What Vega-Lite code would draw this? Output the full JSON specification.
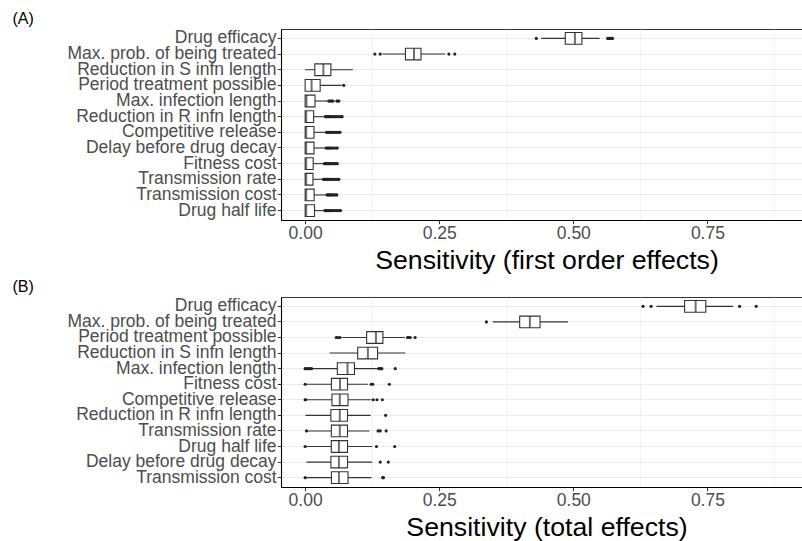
{
  "$schema": "https://vega.github.io/schema/vega-lite/v6.json",
  "padding": {"left": 12, "top": 10, "right": 0, "bottom": 0},
  "background": "white",
  "spacing": 3,
  "config": {
    "font": "Liberation Sans",
    "view": {"stroke": "#333333", "strokeWidth": 1},
    "title": {"font": "Liberation Sans", "fontSize": 16, "fontWeight": "normal", "color": "black", "anchor": "start", "frame": "group", "dx": -268.5, "offset": 2},
    "axis": {
      "labelFont": "Liberation Sans", "labelFontSize": 17.5, "labelColor": "#4D4D4D", "labelLimit": 0,
      "titleFont": "Liberation Sans", "titleFontWeight": "normal", "titleColor": "black", "titleFontSize": 26.7,
      "tickColor": "#333333", "tickSize": 3.7, "tickWidth": 1,
      "domainColor": "black", "domainWidth": 1.1,
      "gridColor": "#EBEBEB", "gridWidth": 1.1
    }
  },
  "datasets": {
    "boxA": [
      {"param": "Drug efficacy", "lo": 0.440, "q1": 0.485, "med": 0.503, "q3": 0.516, "hi": 0.549},
      {"param": "Max. prob. of being treated", "lo": 0.144, "q1": 0.187, "med": 0.203, "q3": 0.216, "hi": 0.261},
      {"param": "Reduction in S infn length", "lo": 0.000, "q1": 0.018, "med": 0.034, "q3": 0.048, "hi": 0.089},
      {"param": "Period treatment possible", "lo": 0.000, "q1": 0.000, "med": 0.012, "q3": 0.028, "hi": 0.068},
      {"param": "Max. infection length", "lo": 0.000, "q1": 0.000, "med": 0.0025, "q3": 0.0184, "hi": 0.042},
      {"param": "Reduction in R infn length", "lo": 0.000, "q1": 0.000, "med": 0.002, "q3": 0.0158, "hi": 0.037},
      {"param": "Competitive release", "lo": 0.000, "q1": 0.000, "med": 0.002, "q3": 0.0165, "hi": 0.0386},
      {"param": "Delay before drug decay", "lo": 0.000, "q1": 0.000, "med": 0.002, "q3": 0.0165, "hi": 0.038},
      {"param": "Fitness cost", "lo": 0.000, "q1": 0.000, "med": 0.002, "q3": 0.015, "hi": 0.035},
      {"param": "Transmission rate", "lo": 0.000, "q1": 0.000, "med": 0.002, "q3": 0.0146, "hi": 0.032},
      {"param": "Transmission cost", "lo": 0.000, "q1": 0.000, "med": 0.002, "q3": 0.0168, "hi": 0.0395},
      {"param": "Drug half life", "lo": 0.000, "q1": 0.000, "med": 0.002, "q3": 0.0175, "hi": 0.036}
    ],
    "outA": [
      {"param": "Drug efficacy", "v": 0.431}, {"param": "Drug efficacy", "v": 0.564}, {"param": "Drug efficacy", "v": 0.566}, {"param": "Drug efficacy", "v": 0.568}, {"param": "Drug efficacy", "v": 0.570}, {"param": "Drug efficacy", "v": 0.572}, {"param": "Drug efficacy", "v": 0.573},
      {"param": "Max. prob. of being treated", "v": 0.130}, {"param": "Max. prob. of being treated", "v": 0.140}, {"param": "Max. prob. of being treated", "v": 0.268}, {"param": "Max. prob. of being treated", "v": 0.279},
      {"param": "Period treatment possible", "v": 0.072},
      {"param": "Max. infection length", "v": 0.044}, {"param": "Max. infection length", "v": 0.046}, {"param": "Max. infection length", "v": 0.048}, {"param": "Max. infection length", "v": 0.050}, {"param": "Max. infection length", "v": 0.052}, {"param": "Max. infection length", "v": 0.059}, {"param": "Max. infection length", "v": 0.061}, {"param": "Max. infection length", "v": 0.063},
      {"param": "Reduction in R infn length", "v": 0.038}, {"param": "Reduction in R infn length", "v": 0.040}, {"param": "Reduction in R infn length", "v": 0.042}, {"param": "Reduction in R infn length", "v": 0.044}, {"param": "Reduction in R infn length", "v": 0.046}, {"param": "Reduction in R infn length", "v": 0.048}, {"param": "Reduction in R infn length", "v": 0.051}, {"param": "Reduction in R infn length", "v": 0.054}, {"param": "Reduction in R infn length", "v": 0.057}, {"param": "Reduction in R infn length", "v": 0.060}, {"param": "Reduction in R infn length", "v": 0.064}, {"param": "Reduction in R infn length", "v": 0.067}, {"param": "Reduction in R infn length", "v": 0.069},
      {"param": "Competitive release", "v": 0.040}, {"param": "Competitive release", "v": 0.042}, {"param": "Competitive release", "v": 0.044}, {"param": "Competitive release", "v": 0.046}, {"param": "Competitive release", "v": 0.048}, {"param": "Competitive release", "v": 0.050}, {"param": "Competitive release", "v": 0.053}, {"param": "Competitive release", "v": 0.056}, {"param": "Competitive release", "v": 0.059}, {"param": "Competitive release", "v": 0.062}, {"param": "Competitive release", "v": 0.065},
      {"param": "Delay before drug decay", "v": 0.039}, {"param": "Delay before drug decay", "v": 0.041}, {"param": "Delay before drug decay", "v": 0.043}, {"param": "Delay before drug decay", "v": 0.045}, {"param": "Delay before drug decay", "v": 0.047}, {"param": "Delay before drug decay", "v": 0.049}, {"param": "Delay before drug decay", "v": 0.052}, {"param": "Delay before drug decay", "v": 0.055}, {"param": "Delay before drug decay", "v": 0.058}, {"param": "Delay before drug decay", "v": 0.060},
      {"param": "Fitness cost", "v": 0.036}, {"param": "Fitness cost", "v": 0.038}, {"param": "Fitness cost", "v": 0.040}, {"param": "Fitness cost", "v": 0.042}, {"param": "Fitness cost", "v": 0.044}, {"param": "Fitness cost", "v": 0.046}, {"param": "Fitness cost", "v": 0.048}, {"param": "Fitness cost", "v": 0.051}, {"param": "Fitness cost", "v": 0.054}, {"param": "Fitness cost", "v": 0.057}, {"param": "Fitness cost", "v": 0.060},
      {"param": "Transmission rate", "v": 0.034}, {"param": "Transmission rate", "v": 0.036}, {"param": "Transmission rate", "v": 0.038}, {"param": "Transmission rate", "v": 0.040}, {"param": "Transmission rate", "v": 0.042}, {"param": "Transmission rate", "v": 0.044}, {"param": "Transmission rate", "v": 0.046}, {"param": "Transmission rate", "v": 0.049}, {"param": "Transmission rate", "v": 0.052}, {"param": "Transmission rate", "v": 0.055}, {"param": "Transmission rate", "v": 0.058}, {"param": "Transmission rate", "v": 0.061}, {"param": "Transmission rate", "v": 0.063},
      {"param": "Transmission cost", "v": 0.041}, {"param": "Transmission cost", "v": 0.043}, {"param": "Transmission cost", "v": 0.045}, {"param": "Transmission cost", "v": 0.047}, {"param": "Transmission cost", "v": 0.049}, {"param": "Transmission cost", "v": 0.051}, {"param": "Transmission cost", "v": 0.054}, {"param": "Transmission cost", "v": 0.057}, {"param": "Transmission cost", "v": 0.059},
      {"param": "Drug half life", "v": 0.037}, {"param": "Drug half life", "v": 0.039}, {"param": "Drug half life", "v": 0.041}, {"param": "Drug half life", "v": 0.043}, {"param": "Drug half life", "v": 0.045}, {"param": "Drug half life", "v": 0.047}, {"param": "Drug half life", "v": 0.049}, {"param": "Drug half life", "v": 0.052}, {"param": "Drug half life", "v": 0.055}, {"param": "Drug half life", "v": 0.058}, {"param": "Drug half life", "v": 0.061}, {"param": "Drug half life", "v": 0.064}, {"param": "Drug half life", "v": 0.066}
    ],
    "boxB": [
      {"param": "Drug efficacy", "lo": 0.655, "q1": 0.7075, "med": 0.728, "q3": 0.747, "hi": 0.798},
      {"param": "Max. prob. of being treated", "lo": 0.350, "q1": 0.400, "med": 0.419, "q3": 0.438, "hi": 0.490},
      {"param": "Period treatment possible", "lo": 0.069, "q1": 0.1147, "med": 0.132, "q3": 0.145, "hi": 0.186},
      {"param": "Reduction in S infn length", "lo": 0.0456, "q1": 0.098, "med": 0.117, "q3": 0.135, "hi": 0.187},
      {"param": "Max. infection length", "lo": 0.014, "q1": 0.060, "med": 0.079, "q3": 0.092, "hi": 0.136},
      {"param": "Fitness cost", "lo": 0.001, "q1": 0.049, "med": 0.065, "q3": 0.079, "hi": 0.117},
      {"param": "Competitive release", "lo": 0.003, "q1": 0.050, "med": 0.0646, "q3": 0.080, "hi": 0.1235},
      {"param": "Reduction in R infn length", "lo": 0.0006, "q1": 0.048, "med": 0.0646, "q3": 0.079, "hi": 0.122},
      {"param": "Transmission rate", "lo": 0.004, "q1": 0.0488, "med": 0.0646, "q3": 0.079, "hi": 0.120},
      {"param": "Drug half life", "lo": 0.001, "q1": 0.0488, "med": 0.063, "q3": 0.079, "hi": 0.125},
      {"param": "Delay before drug decay", "lo": 0.0025, "q1": 0.048, "med": 0.063, "q3": 0.079, "hi": 0.125},
      {"param": "Transmission cost", "lo": 0.001, "q1": 0.049, "med": 0.063, "q3": 0.080, "hi": 0.1235}
    ],
    "outB": [
      {"param": "Drug efficacy", "v": 0.630}, {"param": "Drug efficacy", "v": 0.645}, {"param": "Drug efficacy", "v": 0.810}, {"param": "Drug efficacy", "v": 0.841},
      {"param": "Max. prob. of being treated", "v": 0.338},
      {"param": "Period treatment possible", "v": 0.058}, {"param": "Period treatment possible", "v": 0.061}, {"param": "Period treatment possible", "v": 0.065}, {"param": "Period treatment possible", "v": 0.191}, {"param": "Period treatment possible", "v": 0.193}, {"param": "Period treatment possible", "v": 0.196}, {"param": "Period treatment possible", "v": 0.205},
      {"param": "Max. infection length", "v": 0.000}, {"param": "Max. infection length", "v": 0.003}, {"param": "Max. infection length", "v": 0.006}, {"param": "Max. infection length", "v": 0.009}, {"param": "Max. infection length", "v": 0.012}, {"param": "Max. infection length", "v": 0.1375}, {"param": "Max. infection length", "v": 0.140}, {"param": "Max. infection length", "v": 0.143}, {"param": "Max. infection length", "v": 0.168},
      {"param": "Fitness cost", "v": 0.000}, {"param": "Fitness cost", "v": 0.123}, {"param": "Fitness cost", "v": 0.126}, {"param": "Fitness cost", "v": 0.157},
      {"param": "Competitive release", "v": 0.000}, {"param": "Competitive release", "v": 0.001}, {"param": "Competitive release", "v": 0.127}, {"param": "Competitive release", "v": 0.134}, {"param": "Competitive release", "v": 0.144},
      {"param": "Reduction in R infn length", "v": 0.150},
      {"param": "Transmission rate", "v": 0.0025}, {"param": "Transmission rate", "v": 0.136}, {"param": "Transmission rate", "v": 0.140}, {"param": "Transmission rate", "v": 0.151},
      {"param": "Drug half life", "v": 0.000}, {"param": "Drug half life", "v": 0.133}, {"param": "Drug half life", "v": 0.167},
      {"param": "Delay before drug decay", "v": 0.140}, {"param": "Delay before drug decay", "v": 0.155},
      {"param": "Transmission cost", "v": 0.000}, {"param": "Transmission cost", "v": 0.1445}, {"param": "Transmission cost", "v": 0.146}
    ]
  },
  "vconcat": [
    {
      "title": {"text": "(A)"},
      "width": 531,
      "height": 191,
      "resolve": {"axis": {"x": "independent"}},
      "encoding": {
        "y": {
          "field": "param", "type": "nominal",
          "sort": ["Drug efficacy", "Max. prob. of being treated", "Reduction in S infn length", "Period treatment possible", "Max. infection length", "Reduction in R infn length", "Competitive release", "Delay before drug decay", "Fitness cost", "Transmission rate", "Transmission cost", "Drug half life"],
          "scale": {"type": "band", "paddingInner": 0.25, "paddingOuter": 0.225},
          "axis": {"title": null, "grid": true, "bandPosition": 0.5, "labelPadding": 1.2}
        }
      },
      "layer": [
        {
          "data": {"name": "boxA"},
          "mark": {"type": "rule", "color": "#333333", "strokeWidth": 1.1},
          "encoding": {
            "x": {"field": "lo", "type": "quantitative", "scale": {"domain": [-0.045, 0.945], "nice": false, "zero": false},
                  "axis": {"orient": "top", "values": [0.125, 0.375, 0.625, 0.875], "labels": false, "ticks": false, "domain": false, "title": null, "gridWidth": 0.6}},
            "x2": {"field": "hi"}
          }
        },
        {
          "data": {"name": "boxA"},
          "mark": {"type": "bar", "fill": "white", "stroke": "#333333", "strokeWidth": 1.1},
          "encoding": {
            "x": {"field": "q1", "type": "quantitative",
                  "axis": {"values": [0, 0.25, 0.5, 0.75], "format": ".2f", "title": "Sensitivity (first order effects)", "labelPadding": 0.5, "titleBaseline": "alphabetic", "titleY": 48}},
            "x2": {"field": "q3"}
          }
        },
        {
          "data": {"name": "boxA"},
          "mark": {"type": "tick", "orient": "vertical", "color": "#333333", "thickness": 2, "size": 11.7},
          "encoding": {"x": {"field": "med", "type": "quantitative", "axis": null}}
        },
        {
          "data": {"name": "outA"},
          "mark": {"type": "circle", "color": "#222222", "opacity": 1, "size": 10},
          "encoding": {"x": {"field": "v", "type": "quantitative", "axis": null}}
        }
      ]
    },
    {
      "title": {"text": "(B)"},
      "width": 531,
      "height": 190,
      "resolve": {"axis": {"x": "independent"}},
      "encoding": {
        "y": {
          "field": "param", "type": "nominal",
          "sort": ["Drug efficacy", "Max. prob. of being treated", "Period treatment possible", "Reduction in S infn length", "Max. infection length", "Fitness cost", "Competitive release", "Reduction in R infn length", "Transmission rate", "Drug half life", "Delay before drug decay", "Transmission cost"],
          "scale": {"type": "band", "paddingInner": 0.25, "paddingOuter": 0.225},
          "axis": {"title": null, "grid": true, "bandPosition": 0.5, "labelPadding": 1.2}
        }
      },
      "layer": [
        {
          "data": {"name": "boxB"},
          "mark": {"type": "rule", "color": "#333333", "strokeWidth": 1.1},
          "encoding": {
            "x": {"field": "lo", "type": "quantitative", "scale": {"domain": [-0.045, 0.945], "nice": false, "zero": false},
                  "axis": {"orient": "top", "values": [0.125, 0.375, 0.625, 0.875], "labels": false, "ticks": false, "domain": false, "title": null, "gridWidth": 0.6}},
            "x2": {"field": "hi"}
          }
        },
        {
          "data": {"name": "boxB"},
          "mark": {"type": "bar", "fill": "white", "stroke": "#333333", "strokeWidth": 1.1},
          "encoding": {
            "x": {"field": "q1", "type": "quantitative",
                  "axis": {"values": [0, 0.25, 0.5, 0.75], "format": ".2f", "title": "Sensitivity (total effects)", "labelPadding": 0.5, "titleBaseline": "alphabetic", "titleY": 48}},
            "x2": {"field": "q3"}
          }
        },
        {
          "data": {"name": "boxB"},
          "mark": {"type": "tick", "orient": "vertical", "color": "#333333", "thickness": 2, "size": 11.7},
          "encoding": {"x": {"field": "med", "type": "quantitative", "axis": null}}
        },
        {
          "data": {"name": "outB"},
          "mark": {"type": "circle", "color": "#222222", "opacity": 1, "size": 10},
          "encoding": {"x": {"field": "v", "type": "quantitative", "axis": null}}
        }
      ]
    }
  ]
}
